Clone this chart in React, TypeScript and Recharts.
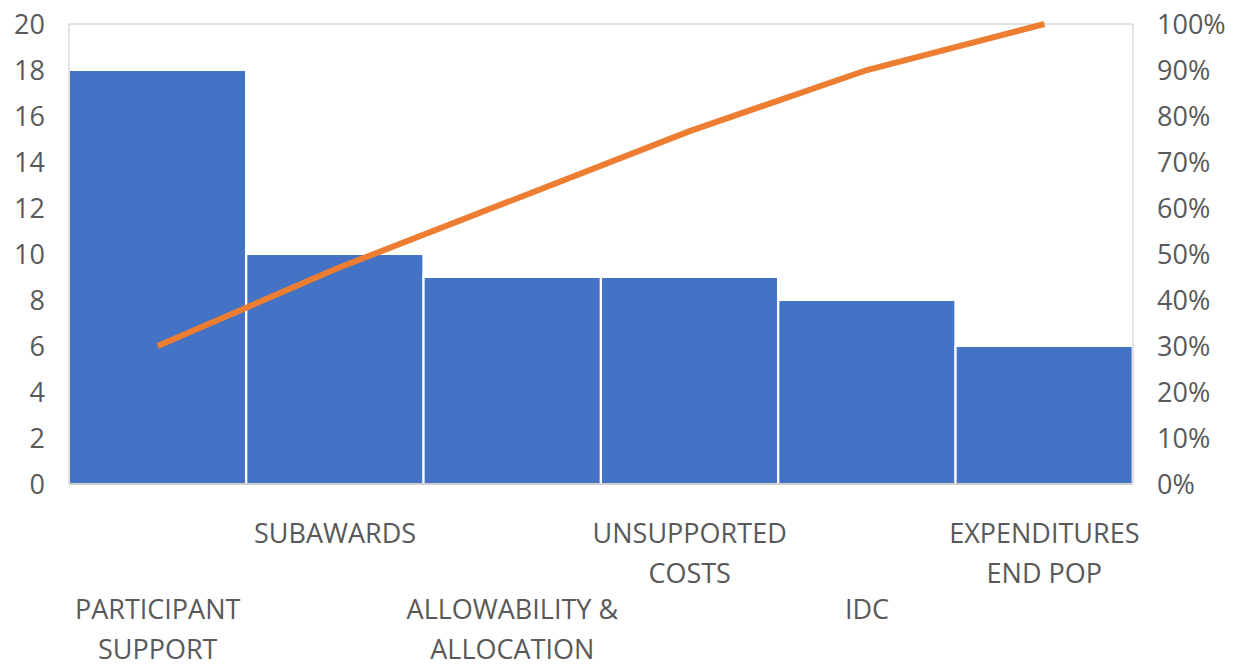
import React from "react";
import { ComposedChart, Bar, Line, XAxis, YAxis, CartesianGrid } from "recharts";

// categories (long labels get split into lines by hand)
const categories = [
  "PARTICIPANT SUPPORT",
  "SUBAWARDS",
  "ALLOWABILITY & ALLOCATION",
  "UNSUPPORTED COSTS",
  "IDC",
  "EXPENDITURES END POP",
];
const labelLines = [
  ["PARTICIPANT", "SUPPORT"],
  ["SUBAWARDS"],
  ["ALLOWABILITY &", "ALLOCATION"],
  ["UNSUPPORTED", "COSTS"],
  ["IDC"],
  ["EXPENDITURES", "END POP"],
];
const counts = [18, 10, 9, 9, 8, 6];
const cumulative = [0.3, 0.467, 0.617, 0.767, 0.9, 1.0];
const leftTicks = [0, 2, 4, 6, 8, 10, 12, 14, 16, 18, 20];
const rightTicks = [0, 0.1, 0.2, 0.3, 0.4, 0.5, 0.6, 0.7, 0.8, 0.9, 1.0];

const data = categories.map((name, i) => ({
  name,
  count: counts[i],
  cum: cumulative[i],
}));

const FONT = "'Open Sans', sans-serif";
const TEXT = "#595959";
const SIZE = 27;

// Excel staggers the category labels: odd rows sit lower
const CategoryTick = (props: any) => {
  const { x, y, payload } = props;
  const i = payload.index;
  const lines = labelLines[i] || [payload.value];
  const base = i % 2 === 0 ? 120 : 44;
  return (
    <g transform={`translate(${x},${y})`}>
      {lines.map((l: string, k: number) => (
        <text
          key={k}
          x={0}
          y={base + k * 40}
          textAnchor="middle"
          fill={TEXT}
          fontSize={SIZE}
          fontFamily={FONT}
          dominantBaseline="middle"
        >
          {l}
        </text>
      ))}
    </g>
  );
};

export default function App() {
  return (
    <div style={{ position: "absolute", left: 0, top: 0, background: "#fff" }}>
      <ComposedChart
        width={1238}
        height={666}
        data={data}
        margin={{ top: 24, right: 0, bottom: 0, left: 0 }}
        barCategoryGap={0}
        barGap={0}
      >
        <CartesianGrid vertical={false} stroke="#d9d9d9" strokeWidth={1.5} />
        <XAxis
          dataKey="name"
          interval={0}
          height={182}
          tickLine={false}
          axisLine={{ stroke: "#bfbfbf", strokeWidth: 1.5 }}
          tick={<CategoryTick />}
        />
        <YAxis
          yAxisId="left"
          domain={[0, 20]}
          ticks={leftTicks}
          width={69}
          tickLine={false}
          axisLine={{ stroke: "#d9d9d9", strokeWidth: 1.5 }}
          tickMargin={18}
          tick={{ fill: TEXT, fontSize: SIZE, fontFamily: FONT }}
        />
        <YAxis
          yAxisId="right"
          orientation="right"
          domain={[0, 1]}
          ticks={rightTicks}
          width={105}
          tickLine={false}
          axisLine={{ stroke: "#d9d9d9", strokeWidth: 1.5 }}
          tickMargin={18}
          tickFormatter={(v: number) => `${Math.round(v * 100)}%`}
          tick={{ fill: TEXT, fontSize: SIZE, fontFamily: FONT }}
        />
        <Bar
          yAxisId="left"
          dataKey="count"
          fill="#4472C4"
          stroke="#ffffff"
          strokeWidth={2}
          isAnimationActive={false}
        />
        <Line
          yAxisId="right"
          dataKey="cum"
          stroke="#ED7D31"
          strokeWidth={6}
          dot={false}
          type="linear"
          isAnimationActive={false}
        />
      </ComposedChart>
    </div>
  );
}
